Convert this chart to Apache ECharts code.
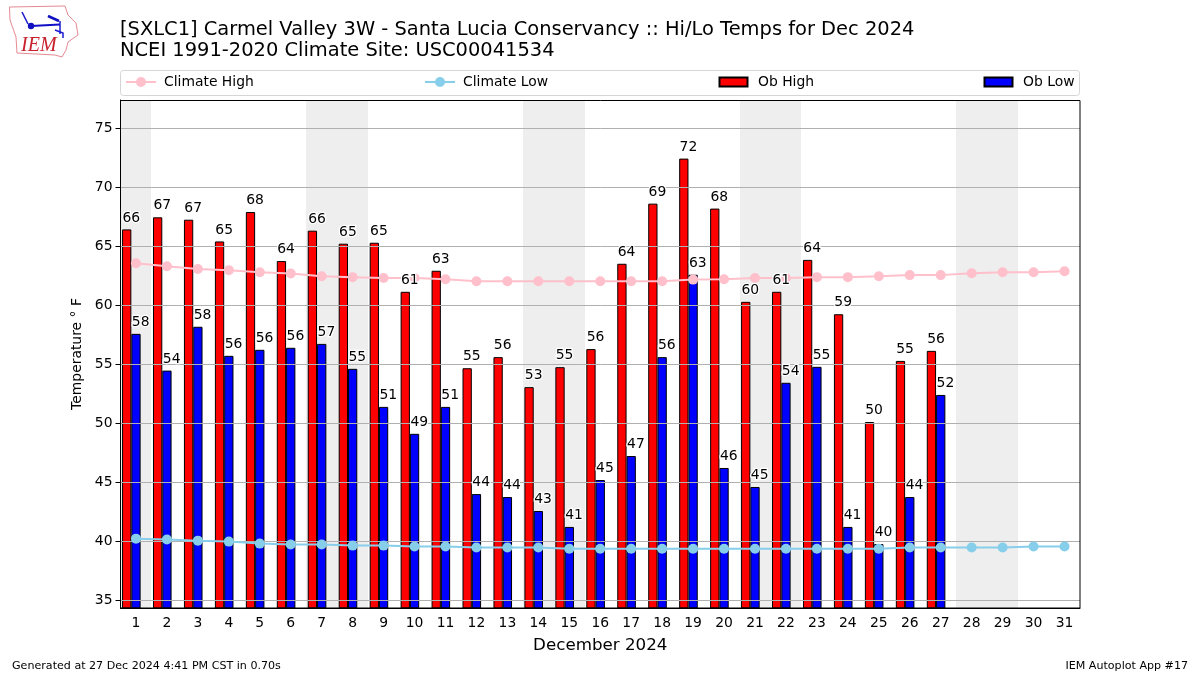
<!DOCTYPE html>
<html><head><meta charset="utf-8">
<style>html,body{margin:0;padding:0;background:#fff}#c{width:1200px;height:675px}</style>
<script src="https://cdn.jsdelivr.net/npm/echarts@6/dist/echarts.min.js"></script>
</head><body><div id="c"></div>
<script>
const days = ['1','2','3','4','5','6','7','8','9','10','11','12','13','14','15','16','17','18','19','20','21','22','23','24','25','26','27','28','29','30','31'];
const weekendDays = [1,7,8,14,15,21,22,28,29];
const yTicks = [35,40,45,50,55,60,65,70,75];
const obHigh = [66.42,67.44,67.24,65.4,67.89,63.74,66.31,65.21,65.29,61.14,62.92,54.67,55.61,53.07,54.76,56.29,63.51,68.6,72.41,68.18,60.29,61.14,63.84,59.24,50.12,55.29,56.14,null,null,null,null];
const obLow = [57.58,54.47,58.18,55.72,56.23,56.4,56.73,54.62,51.4,49.12,51.4,44.02,43.77,42.59,41.24,45.21,47.24,55.61,62.58,46.23,44.62,53.44,54.79,41.24,39.79,43.77,52.41,null,null,null,null];
const obHighLabels = [66,67,67,65,68,64,66,65,65,61,63,55,56,53,55,56,64,69,72,68,60,61,64,59,50,55,56];
const obLowLabels = [58,54,58,56,56,56,57,55,51,49,51,44,44,43,41,45,47,56,63,46,45,54,55,41,40,44,52];
const climateHigh = [63.56,63.3,63.07,62.97,62.8,62.68,62.46,62.38,62.3,62.3,62.2,62.03,62.03,62.03,62.03,62.03,62.03,62.03,62.17,62.2,62.3,62.3,62.38,62.38,62.46,62.55,62.55,62.71,62.8,62.8,62.88];
const climateLow = [40.25,40.17,40.08,40,39.83,39.75,39.75,39.66,39.66,39.58,39.58,39.5,39.5,39.5,39.4,39.4,39.4,39.4,39.4,39.4,39.4,39.4,39.4,39.4,39.4,39.5,39.5,39.5,39.5,39.58,39.58];
const yMin = 34.38, yMax = 77.37;
const titleText = '[SXLC1] Carmel Valley 3W - Santa Lucia Conservancy :: Hi/Lo Temps for Dec 2024\nNCEI 1991-2020 Climate Site: USC00041534';
const FONT = '"DejaVu Sans"';

const G = {left:120.5, right:120, top:100, bottom:67};
const labelSeries = (values, texts, dx) => ({
  type:'scatter', data:values, symbolSize:0, silent:true, z:6, itemStyle:{opacity:1},
  label:{show:true, position:'top', distance:4.5, offset:[dx,0], formatter:p=>texts[p.dataIndex],
    color:'#000', fontFamily:FONT, fontSize:13.9, textBorderColor:'#fff', textBorderWidth:2.5}
});
const barStyle = c => ({color:c, borderColor:'#000', borderWidth:1});
const legendAt = (name,left,opts,pad) => Object.assign({data:[name], left:left, top:75, padding:0,
  textStyle:{fontFamily:FONT, fontSize:13.9, color:'#000', padding:[0,0,0,pad]}}, opts);
const lineLegend = {itemWidth:30, itemHeight:12.5};
const rectLegend = {itemWidth:28, itemHeight:9, icon:'rect'};

const chart = echarts.init(document.getElementById('c'), null, {renderer:'canvas'});
chart.setOption({
  animation:false, backgroundColor:'#fff',
  title:[
    {text:titleText, left:120, top:19, padding:0, textStyle:{fontFamily:FONT, fontSize:19.44, fontWeight:'normal', color:'#000', lineHeight:21.5}},
    {text:'Generated at 27 Dec 2024 4:41 PM CST in 0.70s', left:12, top:661, padding:0, textStyle:{fontFamily:FONT, fontSize:11.1, fontWeight:'normal', color:'#000'}},
    {text:'IEM Autoplot App #17', right:12, top:661, padding:0, textStyle:{fontFamily:FONT, fontSize:11.1, fontWeight:'normal', color:'#000'}}
  ],
  legend:[legendAt('Climate High',125,lineLegend,3), legendAt('Climate Low',424,lineLegend,3), legendAt('Ob High',718.5,rectLegend,5.5), legendAt('Ob Low',983.5,rectLegend,5.5)],
  grid:G,
  xAxis:{type:'category', data:days, z:3,
    name:'December 2024', nameLocation:'middle', nameGap:29,
    nameTextStyle:{fontFamily:FONT, fontSize:16.7, color:'#000'},
    axisLine:{lineStyle:{color:'#000', width:1}}, axisTick:{alignWithLabel:true, length:5, lineStyle:{color:'#000'}},
    axisLabel:{fontFamily:FONT, fontSize:13.9, color:'#000', margin:8, interval:0}, splitLine:{show:false}},
  yAxis:{type:'value', min:yMin, max:yMax, z:3,
    name:'Temperature ° F', nameLocation:'middle', nameGap:23,
    nameTextStyle:{fontFamily:FONT, fontSize:13.9, color:'#000'},
    axisLine:{show:true, lineStyle:{color:'#000', width:1}},
    axisTick:{show:true, length:5, lineStyle:{color:'#000'}, customValues:yTicks},
    axisLabel:{fontFamily:FONT, fontSize:13.9, color:'#000', margin:8, customValues:yTicks},
    splitLine:{show:true, lineStyle:{color:'#b0b0b0', width:1}}},
  series:[
    {type:'custom', name:'Weekend', silent:true, z:1, clip:true,
     data:weekendDays.map(d=>[d-1]), encode:{x:0},
     renderItem:(p,api)=>{const x=api.coord([api.value(0),yMin])[0], w=api.size([1,0])[0], cs=p.coordSys;
       const l=Math.round(x-w/2), r=Math.round(x+w/2);
       return {type:'rect', shape:{x:l,y:cs.y,width:r-l,height:cs.height}, style:{fill:'#eeeeee'}};}},
    {type:'bar', name:'Ob High', data:obHigh, barWidth:'30%', barGap:0, z:2, itemStyle:barStyle('#ff0000')},
    {type:'bar', name:'Ob Low', data:obLow, barWidth:'30%', barGap:0, z:2, itemStyle:barStyle('#0000ff')},
    {type:'bar', name:'Spacer', data:[], barWidth:'30%', barGap:0, z:2},
    {type:'line', name:'Climate High', data:climateHigh, z:4, symbol:'circle', symbolSize:10, showSymbol:true,
     lineStyle:{color:'#ffc0cb', width:2}, itemStyle:{color:'#ffc0cb'}},
    {type:'line', name:'Climate Low', data:climateLow, z:4, symbol:'circle', symbolSize:10, showSymbol:true,
     lineStyle:{color:'#87ceeb', width:2}, itemStyle:{color:'#87ceeb'}},
    labelSeries(obHigh,obHighLabels,-4.7),
    labelSeries(obLow,obLowLabels,4.7)
  ],
  graphic:[
    {type:'rect', z:20, shape:{x:120.5,y:100.5,width:959.5,height:507.5}, style:{fill:null, stroke:'#000', lineWidth:1}, silent:true},
    {type:'rect', z:20, shape:{x:120.5,y:70.5,width:959,height:25,r:3}, style:{fill:null, stroke:'#d5d5d5', lineWidth:1}, silent:true},
    {type:'polygon', z:20, shape:{points:[[9.5,7],[65,6],[68,15],[76,23],[78,35],[68,42],[66,50],[62,57],[55,55],[17,53],[16,37],[10,20]]}, style:{fill:null, stroke:'#e58a92', lineWidth:1}, silent:true},
    {type:'polyline', z:20, shape:{points:[[22,12],[25,18],[28,24]]}, style:{fill:null, stroke:'#1a1ad0', lineWidth:1.5}, silent:true},
    {type:'polyline', z:20, shape:{points:[[31,26],[60,24.5]]}, style:{fill:null, stroke:'#1010c8', lineWidth:2}, silent:true},
    {type:'circle', z:20, shape:{cx:31,cy:26,r:3.2}, style:{fill:'#1010c0'}, silent:true},
    {type:'polyline', z:20, shape:{points:[[48,16],[59,21]]}, style:{fill:null, stroke:'#1010c0', lineWidth:2.5}, silent:true},
    {type:'polyline', z:20, shape:{points:[[60,21],[60,34]]}, style:{fill:null, stroke:'#1a1ad0', lineWidth:1.5}, silent:true},
    {type:'polyline', z:20, shape:{points:[[55,30],[63,33],[63,38]]}, style:{fill:null, stroke:'#1a1ad0', lineWidth:1.5}, silent:true},
    {type:'text', z:20, style:{x:21,y:36,text:'IEM',fill:'#c8202c',font:'italic 20px "Liberation Serif"'}, silent:true}
  ]
});
</script></body></html>
